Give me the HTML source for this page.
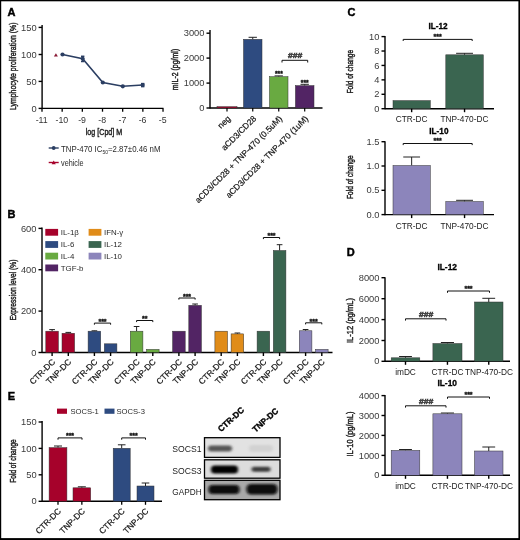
<!DOCTYPE html><html><head><meta charset="utf-8"><style>html,body{margin:0;padding:0;background:#fff;overflow:hidden;width:520px;height:540px;}svg{display:block;}</style></head><body><svg width="520" height="540" viewBox="0 0 520 540" style="will-change:transform;filter:blur(0.3px)" font-family='"Liberation Sans", sans-serif'>
<rect x="0" y="0" width="520" height="540" fill="#fff"/>
<rect x="0" y="0" width="1.2" height="540" fill="#000"/>
<rect x="0" y="0" width="520" height="1.3" fill="#000"/>
<rect x="518.4" y="0" width="1.6" height="540" fill="#000"/>
<rect x="0" y="538.1" width="520" height="1.9" fill="#000"/>
<text x="7.4" y="16.0" font-size="11" text-anchor="start" fill="#000" font-weight="bold" stroke="#000" stroke-width="0.45">A</text>
<line x1="42.1" y1="25" x2="42.1" y2="109.0" stroke="#000" stroke-width="1.4"/>
<line x1="38.6" y1="27.4" x2="42.1" y2="27.4" stroke="#000" stroke-width="1.4"/>
<text x="36.6" y="30.5" font-size="8.8" text-anchor="end" fill="#3a3a3a" textLength="15.56" lengthAdjust="spacingAndGlyphs" >150</text>
<line x1="38.6" y1="54.5" x2="42.1" y2="54.5" stroke="#000" stroke-width="1.4"/>
<text x="36.6" y="57.6" font-size="8.8" text-anchor="end" fill="#3a3a3a" textLength="15.56" lengthAdjust="spacingAndGlyphs" >100</text>
<line x1="38.6" y1="81.4" x2="42.1" y2="81.4" stroke="#000" stroke-width="1.4"/>
<text x="36.6" y="84.5" font-size="8.8" text-anchor="end" fill="#3a3a3a" textLength="10.37" lengthAdjust="spacingAndGlyphs" >50</text>
<line x1="38.6" y1="108.4" x2="42.1" y2="108.4" stroke="#000" stroke-width="1.4"/>
<text x="36.6" y="111.5" font-size="8.8" text-anchor="end" fill="#3a3a3a" textLength="5.19" lengthAdjust="spacingAndGlyphs" >0</text>
<line x1="42.1" y1="108.4" x2="163.5" y2="108.4" stroke="#000" stroke-width="1.4"/>
<line x1="42.0" y1="108.4" x2="42.0" y2="111.7" stroke="#000" stroke-width="1.3"/>
<text x="41.7" y="123.2" font-size="8.8" text-anchor="middle" fill="#333" >-11</text>
<line x1="62.17" y1="108.4" x2="62.17" y2="111.7" stroke="#000" stroke-width="1.3"/>
<text x="61.870000000000005" y="123.2" font-size="8.8" text-anchor="middle" fill="#333" >-10</text>
<line x1="82.34" y1="108.4" x2="82.34" y2="111.7" stroke="#000" stroke-width="1.3"/>
<text x="82.04" y="123.2" font-size="8.8" text-anchor="middle" fill="#333" >-9</text>
<line x1="102.51" y1="108.4" x2="102.51" y2="111.7" stroke="#000" stroke-width="1.3"/>
<text x="102.21000000000001" y="123.2" font-size="8.8" text-anchor="middle" fill="#333" >-8</text>
<line x1="122.68" y1="108.4" x2="122.68" y2="111.7" stroke="#000" stroke-width="1.3"/>
<text x="122.38000000000001" y="123.2" font-size="8.8" text-anchor="middle" fill="#333" >-7</text>
<line x1="142.85000000000002" y1="108.4" x2="142.85000000000002" y2="111.7" stroke="#000" stroke-width="1.3"/>
<text x="142.55" y="123.2" font-size="8.8" text-anchor="middle" fill="#333" >-6</text>
<line x1="163.02" y1="108.4" x2="163.02" y2="111.7" stroke="#000" stroke-width="1.3"/>
<text x="162.72" y="123.2" font-size="8.8" text-anchor="middle" fill="#333" >-5</text>
<text x="104" y="135.4" font-size="9.6" text-anchor="middle" fill="#222" textLength="36.5" lengthAdjust="spacingAndGlyphs" stroke="#222" stroke-width="0.45">log [Cpd] M</text>
<text x="16.3" y="66.3" font-size="9.6" text-anchor="middle" fill="#222" textLength="87.5" lengthAdjust="spacingAndGlyphs" transform="rotate(-90 16.3 66.3)" stroke="#222" stroke-width="0.45">Lymphocyte proliferation (%)</text>
<path d="M62.5,54.5 L82.7,58.8 L102.8,82.5 L122.8,86.3 L142.7,85" stroke="#2b3e62" stroke-width="1.6" fill="none" />
<line x1="82.7" y1="56.3" x2="82.7" y2="61.5" stroke="#2b3e62" stroke-width="1.2"/>
<line x1="81" y1="56.3" x2="84.4" y2="56.3" stroke="#2b3e62" stroke-width="1.5"/>
<line x1="81" y1="61.5" x2="84.4" y2="61.5" stroke="#2b3e62" stroke-width="1.5"/>
<line x1="142.7" y1="83.6" x2="142.7" y2="86.6" stroke="#2b3e62" stroke-width="1.2"/>
<line x1="141" y1="83.6" x2="144.4" y2="83.6" stroke="#2b3e62" stroke-width="1.5"/>
<line x1="141" y1="86.6" x2="144.4" y2="86.6" stroke="#2b3e62" stroke-width="1.5"/>
<circle cx="62.5" cy="54.5" r="2.1" fill="#2b3e62"/>
<circle cx="82.7" cy="58.8" r="2.1" fill="#2b3e62"/>
<circle cx="102.8" cy="82.5" r="2.1" fill="#2b3e62"/>
<circle cx="122.8" cy="86.3" r="2.1" fill="#2b3e62"/>
<circle cx="142.7" cy="85" r="2.1" fill="#2b3e62"/>
<path d="M55.9,53.3 L57.9,56.6 L53.9,56.6 Z" fill="#8a1a35"/>
<line x1="48.7" y1="148" x2="58.7" y2="148" stroke="#2b3e62" stroke-width="1.4"/>
<circle cx="53.7" cy="148" r="1.9" fill="#2b3e62"/>
<text x="61" y="151.6" font-size="8.2" text-anchor="start" fill="#2a2a2a" textLength="99.5" lengthAdjust="spacingAndGlyphs" >TNP-470 IC<tspan font-size="5.2" dy="1.9">50</tspan><tspan dy="-1.9">=2.87±0.46 nM</tspan></text>
<line x1="48.7" y1="162.5" x2="58.7" y2="162.5" stroke="#a6022b" stroke-width="1.4"/>
<path d="M53.7,160.6 L55.8,164.2 L51.6,164.2 Z" fill="#a6022b"/>
<text x="61" y="166" font-size="8.2" text-anchor="start" fill="#2a2a2a" textLength="22.6" lengthAdjust="spacingAndGlyphs" >vehicle</text>
<line x1="210" y1="30" x2="210" y2="108.6" stroke="#000" stroke-width="1.4"/>
<line x1="206.5" y1="33.2" x2="210" y2="33.2" stroke="#000" stroke-width="1.4"/>
<text x="204.5" y="36.300000000000004" font-size="8.8" text-anchor="end" fill="#3a3a3a" textLength="20.75" lengthAdjust="spacingAndGlyphs" >3000</text>
<line x1="206.5" y1="58.1" x2="210" y2="58.1" stroke="#000" stroke-width="1.4"/>
<text x="204.5" y="61.2" font-size="8.8" text-anchor="end" fill="#3a3a3a" textLength="20.75" lengthAdjust="spacingAndGlyphs" >2000</text>
<line x1="206.5" y1="83.1" x2="210" y2="83.1" stroke="#000" stroke-width="1.4"/>
<text x="204.5" y="86.19999999999999" font-size="8.8" text-anchor="end" fill="#3a3a3a" textLength="20.75" lengthAdjust="spacingAndGlyphs" >1000</text>
<line x1="206.5" y1="108" x2="210" y2="108" stroke="#000" stroke-width="1.4"/>
<text x="204.5" y="111.1" font-size="8.8" text-anchor="end" fill="#3a3a3a" textLength="5.19" lengthAdjust="spacingAndGlyphs" >0</text>
<line x1="210" y1="108" x2="322.5" y2="108" stroke="#000" stroke-width="1.4"/>
<text x="178.3" y="69.5" font-size="9.6" text-anchor="middle" fill="#222" textLength="41.5" lengthAdjust="spacingAndGlyphs" transform="rotate(-90 178.3 69.5)" stroke="#222" stroke-width="0.45">mIL-2 (pg/ml)</text>
<rect x="217" y="106.7" width="20" height="1.2999999999999972" fill="#a6022b" stroke="#333" stroke-width="0.5"/>
<line x1="227.0" y1="108" x2="227.0" y2="111.5" stroke="#000" stroke-width="1.2"/>
<line x1="252.75" y1="37.3" x2="252.75" y2="39.3" stroke="#222" stroke-width="1.0"/>
<line x1="248.5875" y1="37.3" x2="256.9125" y2="37.3" stroke="#222" stroke-width="1.0"/>
<rect x="243.5" y="39.3" width="18.5" height="68.7" fill="#2e4b80" stroke="#333" stroke-width="0.5"/>
<line x1="252.75" y1="108" x2="252.75" y2="111.5" stroke="#000" stroke-width="1.2"/>
<line x1="278.75" y1="75.9" x2="278.75" y2="76.7" stroke="#222" stroke-width="1.0"/>
<line x1="274.5875" y1="75.9" x2="282.9125" y2="75.9" stroke="#222" stroke-width="1.0"/>
<rect x="269.5" y="76.7" width="18.5" height="31.299999999999997" fill="#69aa41" stroke="#333" stroke-width="0.5"/>
<line x1="278.75" y1="108" x2="278.75" y2="111.5" stroke="#000" stroke-width="1.2"/>
<line x1="304.7" y1="84.3" x2="304.7" y2="85.6" stroke="#222" stroke-width="1.0"/>
<line x1="300.515" y1="84.3" x2="308.885" y2="84.3" stroke="#222" stroke-width="1.0"/>
<rect x="295.4" y="85.6" width="18.600000000000023" height="22.400000000000006" fill="#522464" stroke="#333" stroke-width="0.5"/>
<line x1="304.7" y1="108" x2="304.7" y2="111.5" stroke="#000" stroke-width="1.2"/>
<text x="278.9" y="76.23" font-size="6.6" text-anchor="middle" fill="#111" font-weight="bold" stroke="#111" stroke-width="0.35">***</text>
<text x="304.7" y="84.53" font-size="6.6" text-anchor="middle" fill="#111" font-weight="bold" stroke="#111" stroke-width="0.35">***</text>
<path d="M282,62.5 L282,60.3 L307.7,60.3 L307.7,62.5" stroke="#111" stroke-width="1.0" fill="none" />
<text x="295.25" y="58.0" font-size="8" text-anchor="middle" fill="#444" font-weight="bold" textLength="14.3" lengthAdjust="spacingAndGlyphs" stroke="#444" stroke-width="0.6">###</text>
<text x="231.0" y="119.2" font-size="8.4" text-anchor="end" fill="#111" transform="rotate(-45 231.0 119.2)" stroke="#111" stroke-width="0.2">neg</text>
<text x="256.75" y="119.2" font-size="8.4" text-anchor="end" fill="#111" transform="rotate(-45 256.75 119.2)" stroke="#111" stroke-width="0.2">aCD3/CD28</text>
<text x="282.75" y="119.2" font-size="8.4" text-anchor="end" fill="#111" transform="rotate(-45 282.75 119.2)" stroke="#111" stroke-width="0.2">aCD3/CD28 + TNP-470 (0.5uM)</text>
<text x="308.7" y="119.2" font-size="8.4" text-anchor="end" fill="#111" transform="rotate(-45 308.7 119.2)" stroke="#111" stroke-width="0.2">aCD3/CD28 + TNP-470 (1uM)</text>
<text x="347.6" y="16.4" font-size="11" text-anchor="start" fill="#000" font-weight="bold" stroke="#000" stroke-width="0.45">C</text>
<text x="438" y="29.1" font-size="8.2" text-anchor="middle" fill="#000" font-weight="bold" stroke="#000" stroke-width="0.3">IL-12</text>
<line x1="385" y1="36.1" x2="385" y2="109.3" stroke="#000" stroke-width="1.4"/>
<line x1="381.5" y1="36.6" x2="385" y2="36.6" stroke="#000" stroke-width="1.4"/>
<text x="379.5" y="39.7" font-size="8.8" text-anchor="end" fill="#3a3a3a" textLength="10.37" lengthAdjust="spacingAndGlyphs" >10</text>
<line x1="381.5" y1="51.02" x2="385" y2="51.02" stroke="#000" stroke-width="1.4"/>
<text x="379.5" y="54.120000000000005" font-size="8.8" text-anchor="end" fill="#3a3a3a" textLength="5.19" lengthAdjust="spacingAndGlyphs" >8</text>
<line x1="381.5" y1="65.44" x2="385" y2="65.44" stroke="#000" stroke-width="1.4"/>
<text x="379.5" y="68.53999999999999" font-size="8.8" text-anchor="end" fill="#3a3a3a" textLength="5.19" lengthAdjust="spacingAndGlyphs" >6</text>
<line x1="381.5" y1="79.86" x2="385" y2="79.86" stroke="#000" stroke-width="1.4"/>
<text x="379.5" y="82.96" font-size="8.8" text-anchor="end" fill="#3a3a3a" textLength="5.19" lengthAdjust="spacingAndGlyphs" >4</text>
<line x1="381.5" y1="94.28" x2="385" y2="94.28" stroke="#000" stroke-width="1.4"/>
<text x="379.5" y="97.38" font-size="8.8" text-anchor="end" fill="#3a3a3a" textLength="5.19" lengthAdjust="spacingAndGlyphs" >2</text>
<line x1="381.5" y1="108.69999999999999" x2="385" y2="108.69999999999999" stroke="#000" stroke-width="1.4"/>
<text x="379.5" y="111.79999999999998" font-size="8.8" text-anchor="end" fill="#3a3a3a" textLength="5.19" lengthAdjust="spacingAndGlyphs" >0</text>
<line x1="385" y1="108.7" x2="494" y2="108.7" stroke="#000" stroke-width="1.4"/>
<rect x="393" y="100.6" width="37.30000000000001" height="8.100000000000009" fill="#3a6550" stroke="#333" stroke-width="0.5"/>
<line x1="411.65" y1="108.7" x2="411.65" y2="112.2" stroke="#000" stroke-width="1.4"/>
<line x1="464.55" y1="53.3" x2="464.55" y2="54.8" stroke="#222" stroke-width="1.0"/>
<line x1="456.1125" y1="53.3" x2="472.9875" y2="53.3" stroke="#222" stroke-width="1.0"/>
<rect x="445.8" y="54.8" width="37.5" height="53.900000000000006" fill="#3a6550" stroke="#333" stroke-width="0.5"/>
<line x1="464.55" y1="108.7" x2="464.55" y2="112.2" stroke="#000" stroke-width="1.4"/>
<text x="411.6" y="122.3" font-size="8.3" text-anchor="middle" fill="#1a1a1a" >CTR-DC</text>
<text x="464.5" y="122.3" font-size="8.3" text-anchor="middle" fill="#1a1a1a" >TNP-470-DC</text>
<path d="M403.2,41.0 L403.2,39.4 L472.2,39.4 L472.2,41.0" stroke="#111" stroke-width="1.0" fill="none" />
<text x="437.7" y="39.34" font-size="7" text-anchor="middle" fill="#111" font-weight="bold" stroke="#111" stroke-width="0.35">***</text>
<text x="353.3" y="71.7" font-size="9.6" text-anchor="middle" fill="#222" textLength="43.5" lengthAdjust="spacingAndGlyphs" transform="rotate(-90 353.3 71.7)" stroke="#222" stroke-width="0.45">Fold of change</text>
<text x="438.9" y="134.1" font-size="8.2" text-anchor="middle" fill="#000" font-weight="bold" stroke="#000" stroke-width="0.3">IL-10</text>
<line x1="385" y1="141.2" x2="385" y2="215.2" stroke="#000" stroke-width="1.4"/>
<line x1="381.5" y1="141.7" x2="385" y2="141.7" stroke="#000" stroke-width="1.4"/>
<text x="379.5" y="144.79999999999998" font-size="8.8" text-anchor="end" fill="#3a3a3a" textLength="12.97" lengthAdjust="spacingAndGlyphs" >1.5</text>
<line x1="381.5" y1="166" x2="385" y2="166" stroke="#000" stroke-width="1.4"/>
<text x="379.5" y="169.1" font-size="8.8" text-anchor="end" fill="#3a3a3a" textLength="12.97" lengthAdjust="spacingAndGlyphs" >1.0</text>
<line x1="381.5" y1="190.3" x2="385" y2="190.3" stroke="#000" stroke-width="1.4"/>
<text x="379.5" y="193.4" font-size="8.8" text-anchor="end" fill="#3a3a3a" textLength="12.97" lengthAdjust="spacingAndGlyphs" >0.5</text>
<line x1="381.5" y1="214.6" x2="385" y2="214.6" stroke="#000" stroke-width="1.4"/>
<text x="379.5" y="217.7" font-size="8.8" text-anchor="end" fill="#3a3a3a" textLength="12.97" lengthAdjust="spacingAndGlyphs" >0.0</text>
<line x1="385" y1="214.6" x2="494" y2="214.6" stroke="#000" stroke-width="1.4"/>
<line x1="411.65" y1="157" x2="411.65" y2="165.5" stroke="#222" stroke-width="1.0"/>
<line x1="403.2575" y1="157" x2="420.04249999999996" y2="157" stroke="#222" stroke-width="1.0"/>
<rect x="393" y="165.5" width="37.30000000000001" height="49.099999999999994" fill="#8c85bb" stroke="#333" stroke-width="0.5"/>
<line x1="411.65" y1="214.6" x2="411.65" y2="218.1" stroke="#000" stroke-width="1.4"/>
<line x1="464.55" y1="200.3" x2="464.55" y2="201.5" stroke="#222" stroke-width="1.0"/>
<line x1="456.1125" y1="200.3" x2="472.9875" y2="200.3" stroke="#222" stroke-width="1.0"/>
<rect x="445.8" y="201.5" width="37.5" height="13.099999999999994" fill="#8c85bb" stroke="#333" stroke-width="0.5"/>
<line x1="464.55" y1="214.6" x2="464.55" y2="218.1" stroke="#000" stroke-width="1.4"/>
<text x="411.6" y="229" font-size="8.3" text-anchor="middle" fill="#1a1a1a" >CTR-DC</text>
<text x="464.5" y="229" font-size="8.3" text-anchor="middle" fill="#1a1a1a" >TNP-470-DC</text>
<path d="M403.2,145.1 L403.2,143.5 L472.2,143.5 L472.2,145.1" stroke="#111" stroke-width="1.0" fill="none" />
<text x="437.7" y="143.44" font-size="7" text-anchor="middle" fill="#111" font-weight="bold" stroke="#111" stroke-width="0.35">***</text>
<text x="353.3" y="177.2" font-size="9.6" text-anchor="middle" fill="#222" textLength="43.5" lengthAdjust="spacingAndGlyphs" transform="rotate(-90 353.3 177.2)" stroke="#222" stroke-width="0.45">Fold of change</text>
<text x="7.6" y="217.9" font-size="11" text-anchor="start" fill="#000" font-weight="bold" stroke="#000" stroke-width="0.45">B</text>
<line x1="42" y1="227.5" x2="42" y2="353.1" stroke="#000" stroke-width="1.4"/>
<line x1="38.5" y1="228.4" x2="42" y2="228.4" stroke="#000" stroke-width="1.4"/>
<text x="36.5" y="231.5" font-size="8.8" text-anchor="end" fill="#3a3a3a" textLength="15.56" lengthAdjust="spacingAndGlyphs" >600</text>
<line x1="38.5" y1="269.7" x2="42" y2="269.7" stroke="#000" stroke-width="1.4"/>
<text x="36.5" y="272.8" font-size="8.8" text-anchor="end" fill="#3a3a3a" textLength="15.56" lengthAdjust="spacingAndGlyphs" >400</text>
<line x1="38.5" y1="311.1" x2="42" y2="311.1" stroke="#000" stroke-width="1.4"/>
<text x="36.5" y="314.20000000000005" font-size="8.8" text-anchor="end" fill="#3a3a3a" textLength="15.56" lengthAdjust="spacingAndGlyphs" >200</text>
<line x1="38.5" y1="352.5" x2="42" y2="352.5" stroke="#000" stroke-width="1.4"/>
<text x="36.5" y="355.6" font-size="8.8" text-anchor="end" fill="#3a3a3a" textLength="5.19" lengthAdjust="spacingAndGlyphs" >0</text>
<line x1="42" y1="352.5" x2="332.5" y2="352.5" stroke="#000" stroke-width="1.4"/>
<text x="15.6" y="290" font-size="9.6" text-anchor="middle" fill="#222" textLength="61" lengthAdjust="spacingAndGlyphs" transform="rotate(-90 15.6 290)" stroke="#222" stroke-width="0.45">Expression level (%)</text>
<line x1="52.10000000000001" y1="329.6" x2="52.10000000000001" y2="331.19445" stroke="#222" stroke-width="1.0"/>
<line x1="49.26500000000001" y1="329.6" x2="54.93500000000001" y2="329.6" stroke="#222" stroke-width="1.0"/>
<rect x="45.800000000000004" y="331.19445" width="12.600000000000001" height="21.305549999999982" fill="#a6022b" stroke="#333" stroke-width="0.5"/>
<line x1="68.30000000000001" y1="332.4" x2="68.30000000000001" y2="333.26295" stroke="#222" stroke-width="1.0"/>
<line x1="65.465" y1="332.4" x2="71.13500000000002" y2="332.4" stroke="#222" stroke-width="1.0"/>
<rect x="62.0" y="333.26295" width="12.600000000000009" height="19.23705000000001" fill="#a6022b" stroke="#333" stroke-width="0.5"/>
<line x1="52.1" y1="352.5" x2="52.1" y2="356" stroke="#000" stroke-width="1.4"/>
<line x1="68.3" y1="352.5" x2="68.3" y2="356" stroke="#000" stroke-width="1.4"/>
<text x="55.7" y="362.4" font-size="8.4" text-anchor="end" fill="#111" transform="rotate(-45 55.7 362.4)" stroke="#111" stroke-width="0.2">CTR-DC</text>
<text x="71.89999999999999" y="362.4" font-size="8.4" text-anchor="end" fill="#111" transform="rotate(-45 71.89999999999999 362.4)" stroke="#111" stroke-width="0.2">TNP-DC</text>
<line x1="94.4" y1="330.8" x2="94.4" y2="331.19445" stroke="#222" stroke-width="1.0"/>
<line x1="91.565" y1="330.8" x2="97.23500000000001" y2="330.8" stroke="#222" stroke-width="1.0"/>
<rect x="88.1" y="331.19445" width="12.600000000000009" height="21.305549999999982" fill="#2e4b80" stroke="#333" stroke-width="0.5"/>
<rect x="104.3" y="343.8123" width="12.600000000000009" height="8.687700000000007" fill="#2e4b80" stroke="#333" stroke-width="0.5"/>
<line x1="94.4" y1="352.5" x2="94.4" y2="356" stroke="#000" stroke-width="1.4"/>
<line x1="110.6" y1="352.5" x2="110.6" y2="356" stroke="#000" stroke-width="1.4"/>
<text x="98.0" y="362.4" font-size="8.4" text-anchor="end" fill="#111" transform="rotate(-45 98.0 362.4)" stroke="#111" stroke-width="0.2">CTR-DC</text>
<text x="114.19999999999999" y="362.4" font-size="8.4" text-anchor="end" fill="#111" transform="rotate(-45 114.19999999999999 362.4)" stroke="#111" stroke-width="0.2">TNP-DC</text>
<line x1="136.59999999999997" y1="326.5" x2="136.59999999999997" y2="331.19445" stroke="#222" stroke-width="1.0"/>
<line x1="133.76499999999996" y1="326.5" x2="139.43499999999997" y2="326.5" stroke="#222" stroke-width="1.0"/>
<rect x="130.29999999999998" y="331.19445" width="12.599999999999994" height="21.305549999999982" fill="#69aa41" stroke="#333" stroke-width="0.5"/>
<rect x="146.5" y="349.39725" width="12.599999999999994" height="3.1027500000000146" fill="#69aa41" stroke="#333" stroke-width="0.5"/>
<line x1="136.6" y1="352.5" x2="136.6" y2="356" stroke="#000" stroke-width="1.4"/>
<line x1="152.79999999999998" y1="352.5" x2="152.79999999999998" y2="356" stroke="#000" stroke-width="1.4"/>
<text x="140.2" y="362.4" font-size="8.4" text-anchor="end" fill="#111" transform="rotate(-45 140.2 362.4)" stroke="#111" stroke-width="0.2">CTR-DC</text>
<text x="156.39999999999998" y="362.4" font-size="8.4" text-anchor="end" fill="#111" transform="rotate(-45 156.39999999999998 362.4)" stroke="#111" stroke-width="0.2">TNP-DC</text>
<rect x="172.6" y="331.19445" width="12.599999999999994" height="21.305549999999982" fill="#522464" stroke="#333" stroke-width="0.5"/>
<line x1="195.10000000000002" y1="304" x2="195.10000000000002" y2="305.33820000000003" stroke="#222" stroke-width="1.0"/>
<line x1="192.26500000000001" y1="304" x2="197.93500000000003" y2="304" stroke="#222" stroke-width="1.0"/>
<rect x="188.8" y="305.33820000000003" width="12.599999999999994" height="47.16179999999997" fill="#522464" stroke="#333" stroke-width="0.5"/>
<line x1="178.9" y1="352.5" x2="178.9" y2="356" stroke="#000" stroke-width="1.4"/>
<line x1="195.1" y1="352.5" x2="195.1" y2="356" stroke="#000" stroke-width="1.4"/>
<text x="182.5" y="362.4" font-size="8.4" text-anchor="end" fill="#111" transform="rotate(-45 182.5 362.4)" stroke="#111" stroke-width="0.2">CTR-DC</text>
<text x="198.7" y="362.4" font-size="8.4" text-anchor="end" fill="#111" transform="rotate(-45 198.7 362.4)" stroke="#111" stroke-width="0.2">TNP-DC</text>
<rect x="214.9" y="331.19445" width="12.599999999999994" height="21.305549999999982" fill="#e08c19" stroke="#333" stroke-width="0.5"/>
<line x1="237.40000000000003" y1="333" x2="237.40000000000003" y2="333.8835" stroke="#222" stroke-width="1.0"/>
<line x1="234.56500000000003" y1="333" x2="240.23500000000004" y2="333" stroke="#222" stroke-width="1.0"/>
<rect x="231.10000000000002" y="333.8835" width="12.599999999999994" height="18.616499999999974" fill="#e08c19" stroke="#333" stroke-width="0.5"/>
<line x1="221.20000000000002" y1="352.5" x2="221.20000000000002" y2="356" stroke="#000" stroke-width="1.4"/>
<line x1="237.4" y1="352.5" x2="237.4" y2="356" stroke="#000" stroke-width="1.4"/>
<text x="224.8" y="362.4" font-size="8.4" text-anchor="end" fill="#111" transform="rotate(-45 224.8 362.4)" stroke="#111" stroke-width="0.2">CTR-DC</text>
<text x="241.0" y="362.4" font-size="8.4" text-anchor="end" fill="#111" transform="rotate(-45 241.0 362.4)" stroke="#111" stroke-width="0.2">TNP-DC</text>
<rect x="257.1" y="331.19445" width="12.599999999999966" height="21.305549999999982" fill="#3a6550" stroke="#333" stroke-width="0.5"/>
<line x1="279.6" y1="244.7" x2="279.6" y2="250.52294999999998" stroke="#222" stroke-width="1.0"/>
<line x1="276.76500000000004" y1="244.7" x2="282.435" y2="244.7" stroke="#222" stroke-width="1.0"/>
<rect x="273.3" y="250.52294999999998" width="12.599999999999966" height="101.97705000000002" fill="#3a6550" stroke="#333" stroke-width="0.5"/>
<line x1="263.4" y1="352.5" x2="263.4" y2="356" stroke="#000" stroke-width="1.4"/>
<line x1="279.6" y1="352.5" x2="279.6" y2="356" stroke="#000" stroke-width="1.4"/>
<text x="267.0" y="362.4" font-size="8.4" text-anchor="end" fill="#111" transform="rotate(-45 267.0 362.4)" stroke="#111" stroke-width="0.2">CTR-DC</text>
<text x="283.20000000000005" y="362.4" font-size="8.4" text-anchor="end" fill="#111" transform="rotate(-45 283.20000000000005 362.4)" stroke="#111" stroke-width="0.2">TNP-DC</text>
<line x1="305.6" y1="329.5" x2="305.6" y2="330.78075" stroke="#222" stroke-width="1.0"/>
<line x1="302.76500000000004" y1="329.5" x2="308.435" y2="329.5" stroke="#222" stroke-width="1.0"/>
<rect x="299.3" y="330.78075" width="12.599999999999966" height="21.719249999999988" fill="#8c85bb" stroke="#333" stroke-width="0.5"/>
<rect x="315.5" y="349.39725" width="12.599999999999966" height="3.1027500000000146" fill="#8c85bb" stroke="#333" stroke-width="0.5"/>
<line x1="305.59999999999997" y1="352.5" x2="305.59999999999997" y2="356" stroke="#000" stroke-width="1.4"/>
<line x1="321.8" y1="352.5" x2="321.8" y2="356" stroke="#000" stroke-width="1.4"/>
<text x="309.2" y="362.4" font-size="8.4" text-anchor="end" fill="#111" transform="rotate(-45 309.2 362.4)" stroke="#111" stroke-width="0.2">CTR-DC</text>
<text x="325.40000000000003" y="362.4" font-size="8.4" text-anchor="end" fill="#111" transform="rotate(-45 325.40000000000003 362.4)" stroke="#111" stroke-width="0.2">TNP-DC</text>
<path d="M94.4,324.70000000000005 L94.4,323.1 L110.6,323.1 L110.6,324.70000000000005" stroke="#111" stroke-width="1.0" fill="none" />
<text x="102.5" y="323.94" font-size="7" text-anchor="middle" fill="#111" font-weight="bold" stroke="#111" stroke-width="0.35">***</text>
<path d="M136.6,322.1 L136.6,320.5 L152.79999999999998,320.5 L152.79999999999998,322.1" stroke="#111" stroke-width="1.0" fill="none" />
<text x="144.7" y="321.34" font-size="7" text-anchor="middle" fill="#111" font-weight="bold" stroke="#111" stroke-width="0.35">**</text>
<path d="M178.9,299.6 L178.9,298 L195.1,298 L195.1,299.6" stroke="#111" stroke-width="1.0" fill="none" />
<text x="187.0" y="298.84" font-size="7" text-anchor="middle" fill="#111" font-weight="bold" stroke="#111" stroke-width="0.35">***</text>
<path d="M263.4,239.1 L263.4,237.5 L279.6,237.5 L279.6,239.1" stroke="#111" stroke-width="1.0" fill="none" />
<text x="271.5" y="238.34" font-size="7" text-anchor="middle" fill="#111" font-weight="bold" stroke="#111" stroke-width="0.35">***</text>
<path d="M305.59999999999997,324.40000000000003 L305.59999999999997,322.8 L321.8,322.8 L321.8,324.40000000000003" stroke="#111" stroke-width="1.0" fill="none" />
<text x="313.7" y="323.64" font-size="7" text-anchor="middle" fill="#111" font-weight="bold" stroke="#111" stroke-width="0.35">***</text>
<rect x="45.3" y="228.9" width="12.8" height="6.8" fill="#a6022b"/>
<text x="60.699999999999996" y="235.20000000000002" font-size="7.9" text-anchor="start" fill="#2a2a2a" >IL-1β</text>
<rect x="45.3" y="241.1" width="12.8" height="6.8" fill="#2e4b80"/>
<text x="60.699999999999996" y="247.4" font-size="7.9" text-anchor="start" fill="#2a2a2a" >IL-6</text>
<rect x="45.3" y="252.70000000000002" width="12.8" height="6.8" fill="#69aa41"/>
<text x="60.699999999999996" y="259.0" font-size="7.9" text-anchor="start" fill="#2a2a2a" >IL-4</text>
<rect x="45.3" y="264.5" width="12.8" height="6.8" fill="#522464"/>
<text x="60.699999999999996" y="270.79999999999995" font-size="7.9" text-anchor="start" fill="#2a2a2a" >TGF-b</text>
<rect x="88.6" y="228.9" width="12.8" height="6.8" fill="#e08c19"/>
<text x="104.0" y="235.20000000000002" font-size="7.9" text-anchor="start" fill="#2a2a2a" >IFN-γ</text>
<rect x="88.6" y="241.1" width="12.8" height="6.8" fill="#3a6550"/>
<text x="104.0" y="247.4" font-size="7.9" text-anchor="start" fill="#2a2a2a" >IL-12</text>
<rect x="88.6" y="252.70000000000002" width="12.8" height="6.8" fill="#8c85bb"/>
<text x="104.0" y="259.0" font-size="7.9" text-anchor="start" fill="#2a2a2a" >IL-10</text>
<text x="346.8" y="256.1" font-size="11" text-anchor="start" fill="#000" font-weight="bold" stroke="#000" stroke-width="0.45">D</text>
<text x="447.2" y="269.7" font-size="8.4" text-anchor="middle" fill="#000" font-weight="bold" stroke="#000" stroke-width="0.3">IL-12</text>
<line x1="385" y1="277.2" x2="385" y2="361.90000000000003" stroke="#000" stroke-width="1.4"/>
<line x1="381.5" y1="277.7" x2="385" y2="277.7" stroke="#000" stroke-width="1.4"/>
<text x="379.5" y="280.8" font-size="8.8" text-anchor="end" fill="#3a3a3a" textLength="20.75" lengthAdjust="spacingAndGlyphs" >8000</text>
<line x1="381.5" y1="298.7" x2="385" y2="298.7" stroke="#000" stroke-width="1.4"/>
<text x="379.5" y="301.8" font-size="8.8" text-anchor="end" fill="#3a3a3a" textLength="20.75" lengthAdjust="spacingAndGlyphs" >6000</text>
<line x1="381.5" y1="319.6" x2="385" y2="319.6" stroke="#000" stroke-width="1.4"/>
<text x="379.5" y="322.70000000000005" font-size="8.8" text-anchor="end" fill="#3a3a3a" textLength="20.75" lengthAdjust="spacingAndGlyphs" >4000</text>
<line x1="381.5" y1="340.5" x2="385" y2="340.5" stroke="#000" stroke-width="1.4"/>
<text x="379.5" y="343.6" font-size="8.8" text-anchor="end" fill="#3a3a3a" textLength="20.75" lengthAdjust="spacingAndGlyphs" >2000</text>
<line x1="381.5" y1="361.3" x2="385" y2="361.3" stroke="#000" stroke-width="1.4"/>
<text x="379.5" y="364.40000000000003" font-size="8.8" text-anchor="end" fill="#3a3a3a" textLength="5.19" lengthAdjust="spacingAndGlyphs" >0</text>
<line x1="385" y1="361.3" x2="510" y2="361.3" stroke="#000" stroke-width="1.4"/>
<line x1="405.5" y1="356.5" x2="405.5" y2="357.8" stroke="#222" stroke-width="1.0"/>
<line x1="399.065" y1="356.5" x2="411.935" y2="356.5" stroke="#222" stroke-width="1.0"/>
<rect x="391.2" y="357.8" width="28.600000000000023" height="3.5" fill="#3a6550" stroke="#333" stroke-width="0.5"/>
<line x1="405.5" y1="361.3" x2="405.5" y2="364.8" stroke="#000" stroke-width="1.4"/>
<line x1="447.45" y1="342.5" x2="447.45" y2="343.5" stroke="#222" stroke-width="1.0"/>
<line x1="440.9025" y1="342.5" x2="453.9975" y2="342.5" stroke="#222" stroke-width="1.0"/>
<rect x="432.9" y="343.5" width="29.100000000000023" height="17.80000000000001" fill="#3a6550" stroke="#333" stroke-width="0.5"/>
<line x1="447.45" y1="361.3" x2="447.45" y2="364.8" stroke="#000" stroke-width="1.4"/>
<line x1="488.75" y1="298.3" x2="488.75" y2="302" stroke="#222" stroke-width="1.0"/>
<line x1="482.3375" y1="298.3" x2="495.1625" y2="298.3" stroke="#222" stroke-width="1.0"/>
<rect x="474.5" y="302" width="28.5" height="59.30000000000001" fill="#3a6550" stroke="#333" stroke-width="0.5"/>
<line x1="488.75" y1="361.3" x2="488.75" y2="364.8" stroke="#000" stroke-width="1.4"/>
<text x="405.5" y="375" font-size="8.3" text-anchor="middle" fill="#1a1a1a" >imDC</text>
<text x="447.5" y="375" font-size="8.3" text-anchor="middle" fill="#1a1a1a" >CTR-DC</text>
<text x="489" y="375" font-size="8.3" text-anchor="middle" fill="#1a1a1a" >TNP-470-DC</text>
<path d="M405.5,320.6 L405.5,318.8 L446,318.8 L446,320.6" stroke="#111" stroke-width="1.0" fill="none" />
<text x="426.15" y="316.5" font-size="8" text-anchor="middle" fill="#444" font-weight="bold" textLength="14.3" lengthAdjust="spacingAndGlyphs" stroke="#444" stroke-width="0.6">###</text>
<path d="M447.5,292.8 L447.5,291 L489.5,291 L489.5,292.8" stroke="#111" stroke-width="1.0" fill="none" />
<text x="468.5" y="291.34" font-size="7" text-anchor="middle" fill="#111" font-weight="bold" stroke="#111" stroke-width="0.35">***</text>
<text x="353.3" y="320.5" font-size="9.6" text-anchor="middle" fill="#222" textLength="45" lengthAdjust="spacingAndGlyphs" transform="rotate(-90 353.3 320.5)" stroke="#222" stroke-width="0.45">IL-12 (pg/mL)</text>
<text x="447.2" y="386.1" font-size="8.4" text-anchor="middle" fill="#000" font-weight="bold" stroke="#000" stroke-width="0.3">IL-10</text>
<line x1="385" y1="395.1" x2="385" y2="475.90000000000003" stroke="#000" stroke-width="1.4"/>
<line x1="381.5" y1="395.6" x2="385" y2="395.6" stroke="#000" stroke-width="1.4"/>
<text x="379.5" y="398.70000000000005" font-size="8.8" text-anchor="end" fill="#3a3a3a" textLength="20.75" lengthAdjust="spacingAndGlyphs" >4000</text>
<line x1="381.5" y1="415.5" x2="385" y2="415.5" stroke="#000" stroke-width="1.4"/>
<text x="379.5" y="418.6" font-size="8.8" text-anchor="end" fill="#3a3a3a" textLength="20.75" lengthAdjust="spacingAndGlyphs" >3000</text>
<line x1="381.5" y1="435.4" x2="385" y2="435.4" stroke="#000" stroke-width="1.4"/>
<text x="379.5" y="438.5" font-size="8.8" text-anchor="end" fill="#3a3a3a" textLength="20.75" lengthAdjust="spacingAndGlyphs" >2000</text>
<line x1="381.5" y1="455.4" x2="385" y2="455.4" stroke="#000" stroke-width="1.4"/>
<text x="379.5" y="458.5" font-size="8.8" text-anchor="end" fill="#3a3a3a" textLength="20.75" lengthAdjust="spacingAndGlyphs" >1000</text>
<line x1="381.5" y1="475.3" x2="385" y2="475.3" stroke="#000" stroke-width="1.4"/>
<text x="379.5" y="478.40000000000003" font-size="8.8" text-anchor="end" fill="#3a3a3a" textLength="5.19" lengthAdjust="spacingAndGlyphs" >0</text>
<line x1="385" y1="475.3" x2="510" y2="475.3" stroke="#000" stroke-width="1.4"/>
<line x1="405.5" y1="449.5" x2="405.5" y2="450.4" stroke="#222" stroke-width="1.0"/>
<line x1="399.065" y1="449.5" x2="411.935" y2="449.5" stroke="#222" stroke-width="1.0"/>
<rect x="391.2" y="450.4" width="28.600000000000023" height="24.900000000000034" fill="#8c85bb" stroke="#333" stroke-width="0.5"/>
<line x1="405.5" y1="475.3" x2="405.5" y2="478.8" stroke="#000" stroke-width="1.4"/>
<line x1="447.45" y1="413" x2="447.45" y2="413.8" stroke="#222" stroke-width="1.0"/>
<line x1="440.9025" y1="413" x2="453.9975" y2="413" stroke="#222" stroke-width="1.0"/>
<rect x="432.9" y="413.8" width="29.100000000000023" height="61.5" fill="#8c85bb" stroke="#333" stroke-width="0.5"/>
<line x1="447.45" y1="475.3" x2="447.45" y2="478.8" stroke="#000" stroke-width="1.4"/>
<line x1="488.75" y1="447" x2="488.75" y2="451" stroke="#222" stroke-width="1.0"/>
<line x1="482.3375" y1="447" x2="495.1625" y2="447" stroke="#222" stroke-width="1.0"/>
<rect x="474.5" y="451" width="28.5" height="24.30000000000001" fill="#8c85bb" stroke="#333" stroke-width="0.5"/>
<line x1="488.75" y1="475.3" x2="488.75" y2="478.8" stroke="#000" stroke-width="1.4"/>
<text x="405.5" y="489.3" font-size="8.3" text-anchor="middle" fill="#1a1a1a" >imDC</text>
<text x="447.5" y="489.3" font-size="8.3" text-anchor="middle" fill="#1a1a1a" >CTR-DC</text>
<text x="489" y="489.3" font-size="8.3" text-anchor="middle" fill="#1a1a1a" >TNP-470-DC</text>
<path d="M405.5,407.6 L405.5,405.8 L446,405.8 L446,407.6" stroke="#111" stroke-width="1.0" fill="none" />
<text x="426.15" y="403.5" font-size="8" text-anchor="middle" fill="#444" font-weight="bold" textLength="14.3" lengthAdjust="spacingAndGlyphs" stroke="#444" stroke-width="0.6">###</text>
<path d="M447.5,398.8 L447.5,397 L489.5,397 L489.5,398.8" stroke="#111" stroke-width="1.0" fill="none" />
<text x="468.5" y="397.34" font-size="7" text-anchor="middle" fill="#111" font-weight="bold" stroke="#111" stroke-width="0.35">***</text>
<text x="353.3" y="434" font-size="9.6" text-anchor="middle" fill="#222" textLength="45" lengthAdjust="spacingAndGlyphs" transform="rotate(-90 353.3 434)" stroke="#222" stroke-width="0.45">IL-10 (pg/mL)</text>
<text x="7.8" y="399.5" font-size="11" text-anchor="start" fill="#000" font-weight="bold" stroke="#000" stroke-width="0.45">E</text>
<rect x="57" y="408.6" width="10" height="5.2" fill="#a6022b"/>
<text x="70.4" y="414.2" font-size="8.0" text-anchor="start" fill="#2a2a2a" textLength="28.4" lengthAdjust="spacingAndGlyphs" >SOCS-1</text>
<rect x="104.5" y="408.6" width="10" height="5.2" fill="#2e4b80"/>
<text x="116.5" y="414.2" font-size="8.0" text-anchor="start" fill="#2a2a2a" textLength="28.4" lengthAdjust="spacingAndGlyphs" >SOCS-3</text>
<line x1="42.1" y1="421" x2="42.1" y2="501.90000000000003" stroke="#000" stroke-width="1.4"/>
<line x1="38.6" y1="422" x2="42.1" y2="422" stroke="#000" stroke-width="1.4"/>
<text x="36.6" y="425.1" font-size="8.8" text-anchor="end" fill="#3a3a3a" textLength="15.56" lengthAdjust="spacingAndGlyphs" >150</text>
<line x1="38.6" y1="448.4" x2="42.1" y2="448.4" stroke="#000" stroke-width="1.4"/>
<text x="36.6" y="451.5" font-size="8.8" text-anchor="end" fill="#3a3a3a" textLength="15.56" lengthAdjust="spacingAndGlyphs" >100</text>
<line x1="38.6" y1="474.8" x2="42.1" y2="474.8" stroke="#000" stroke-width="1.4"/>
<text x="36.6" y="477.90000000000003" font-size="8.8" text-anchor="end" fill="#3a3a3a" textLength="10.37" lengthAdjust="spacingAndGlyphs" >50</text>
<line x1="38.6" y1="501.3" x2="42.1" y2="501.3" stroke="#000" stroke-width="1.4"/>
<text x="36.6" y="504.40000000000003" font-size="8.8" text-anchor="end" fill="#3a3a3a" textLength="5.19" lengthAdjust="spacingAndGlyphs" >0</text>
<line x1="42.1" y1="501.3" x2="162" y2="501.3" stroke="#000" stroke-width="1.4"/>
<text x="15.6" y="461" font-size="9.6" text-anchor="middle" fill="#222" textLength="43.5" lengthAdjust="spacingAndGlyphs" transform="rotate(-90 15.6 461)" stroke="#222" stroke-width="0.45">Fold of change</text>
<line x1="58.0" y1="446" x2="58.0" y2="447.6" stroke="#222" stroke-width="1.0"/>
<line x1="53.995" y1="446" x2="62.005" y2="446" stroke="#222" stroke-width="1.0"/>
<rect x="49.1" y="447.6" width="17.800000000000004" height="53.69999999999999" fill="#a6022b" stroke="#333" stroke-width="0.5"/>
<line x1="58.0" y1="501.3" x2="58.0" y2="504.8" stroke="#000" stroke-width="1.3"/>
<text x="61.6" y="511.8" font-size="8.4" text-anchor="end" fill="#111" transform="rotate(-45 61.6 511.8)" stroke="#111" stroke-width="0.2">CTR-DC</text>
<line x1="81.85" y1="486.8" x2="81.85" y2="487.8" stroke="#222" stroke-width="1.0"/>
<line x1="77.86749999999999" y1="486.8" x2="85.8325" y2="486.8" stroke="#222" stroke-width="1.0"/>
<rect x="73" y="487.8" width="17.700000000000003" height="13.5" fill="#a6022b" stroke="#333" stroke-width="0.5"/>
<line x1="81.85" y1="501.3" x2="81.85" y2="504.8" stroke="#000" stroke-width="1.3"/>
<text x="85.44999999999999" y="511.8" font-size="8.4" text-anchor="end" fill="#111" transform="rotate(-45 85.44999999999999 511.8)" stroke="#111" stroke-width="0.2">TNP-DC</text>
<line x1="121.69999999999999" y1="444.8" x2="121.69999999999999" y2="448.3" stroke="#222" stroke-width="1.0"/>
<line x1="117.87499999999999" y1="444.8" x2="125.52499999999999" y2="444.8" stroke="#222" stroke-width="1.0"/>
<rect x="113.2" y="448.3" width="16.999999999999986" height="53.0" fill="#2e4b80" stroke="#333" stroke-width="0.5"/>
<line x1="121.69999999999999" y1="501.3" x2="121.69999999999999" y2="504.8" stroke="#000" stroke-width="1.3"/>
<text x="125.29999999999998" y="511.8" font-size="8.4" text-anchor="end" fill="#111" transform="rotate(-45 125.29999999999998 511.8)" stroke="#111" stroke-width="0.2">CTR-DC</text>
<line x1="145.5" y1="483" x2="145.5" y2="486" stroke="#222" stroke-width="1.0"/>
<line x1="141.675" y1="483" x2="149.325" y2="483" stroke="#222" stroke-width="1.0"/>
<rect x="137" y="486" width="17" height="15.300000000000011" fill="#2e4b80" stroke="#333" stroke-width="0.5"/>
<line x1="145.5" y1="501.3" x2="145.5" y2="504.8" stroke="#000" stroke-width="1.3"/>
<text x="149.1" y="511.8" font-size="8.4" text-anchor="end" fill="#111" transform="rotate(-45 149.1 511.8)" stroke="#111" stroke-width="0.2">TNP-DC</text>
<path d="M58,439.7 L58,437.9 L82,437.9 L82,439.7" stroke="#111" stroke-width="1.0" fill="none" />
<text x="70.0" y="438.24" font-size="7" text-anchor="middle" fill="#111" font-weight="bold" stroke="#111" stroke-width="0.35">***</text>
<path d="M121.7,439.7 L121.7,437.9 L145.5,437.9 L145.5,439.7" stroke="#111" stroke-width="1.0" fill="none" />
<text x="133.6" y="438.24" font-size="7" text-anchor="middle" fill="#111" font-weight="bold" stroke="#111" stroke-width="0.35">***</text>
<text x="221" y="432.3" font-size="8.4" text-anchor="start" fill="#000" font-weight="bold" transform="rotate(-42 221 432.3)" stroke="#000" stroke-width="0.35">CTR-DC</text>
<text x="255.5" y="432.8" font-size="8.4" text-anchor="start" fill="#000" font-weight="bold" transform="rotate(-42 255.5 432.8)" stroke="#000" stroke-width="0.35">TNP-DC</text>
<text x="172.3" y="452.3" font-size="8.8" text-anchor="start" fill="#222" textLength="29.3" lengthAdjust="spacingAndGlyphs" >SOCS1</text>
<text x="172.3" y="473.8" font-size="8.8" text-anchor="start" fill="#222" textLength="29.3" lengthAdjust="spacingAndGlyphs" >SOCS3</text>
<text x="172.3" y="495" font-size="8.8" text-anchor="start" fill="#222" textLength="29.3" lengthAdjust="spacingAndGlyphs" >GAPDH</text>
<defs><filter id="bl" x="-50%" y="-80%" width="200%" height="260%"><feGaussianBlur stdDeviation="1.5 1.2"/></filter><clipPath id="c1"><rect x="205" y="437.7" width="75" height="19.7"/></clipPath><clipPath id="c2"><rect x="205" y="459.8" width="75" height="18.4"/></clipPath><clipPath id="c3"><rect x="205" y="480.3" width="75" height="19.4"/></clipPath></defs>
<rect x="204.5" y="437.7" width="75.5" height="19.69999999999999" fill="#e2e2e2"/>
<rect x="204.5" y="459.8" width="75.5" height="18.399999999999977" fill="#dcdcdc"/>
<rect x="204.5" y="480.3" width="75.5" height="19.399999999999977" fill="#a9a9a9"/>
<g clip-path="url(#c1)"><g filter="url(#bl)">
<rect x="208" y="445.5" width="24" height="6" rx="3" fill="#555"/>
<rect x="249" y="445" width="24" height="7" rx="3" fill="#d2d2d2"/>
</g></g><g clip-path="url(#c2)"><g filter="url(#bl)">
<rect x="211" y="465.5" width="27" height="8" rx="3.5" fill="#050505"/>
<rect x="251.5" y="466.8" width="19" height="5" rx="2.5" fill="#3a3a3a"/>
</g></g><g clip-path="url(#c3)"><g filter="url(#bl)">
<rect x="208.5" y="485" width="31" height="9" rx="4" fill="#080808"/>
<rect x="246.5" y="484" width="31" height="10.5" rx="4.5" fill="#080808"/>
</g></g>
<rect x="204.5" y="437.7" width="75.5" height="19.69999999999999" fill="none" stroke="#000" stroke-width="1.3"/>
<rect x="204.5" y="459.8" width="75.5" height="18.399999999999977" fill="none" stroke="#000" stroke-width="1.3"/>
<rect x="204.5" y="480.3" width="75.5" height="19.399999999999977" fill="none" stroke="#000" stroke-width="1.3"/>
</svg></body></html>
